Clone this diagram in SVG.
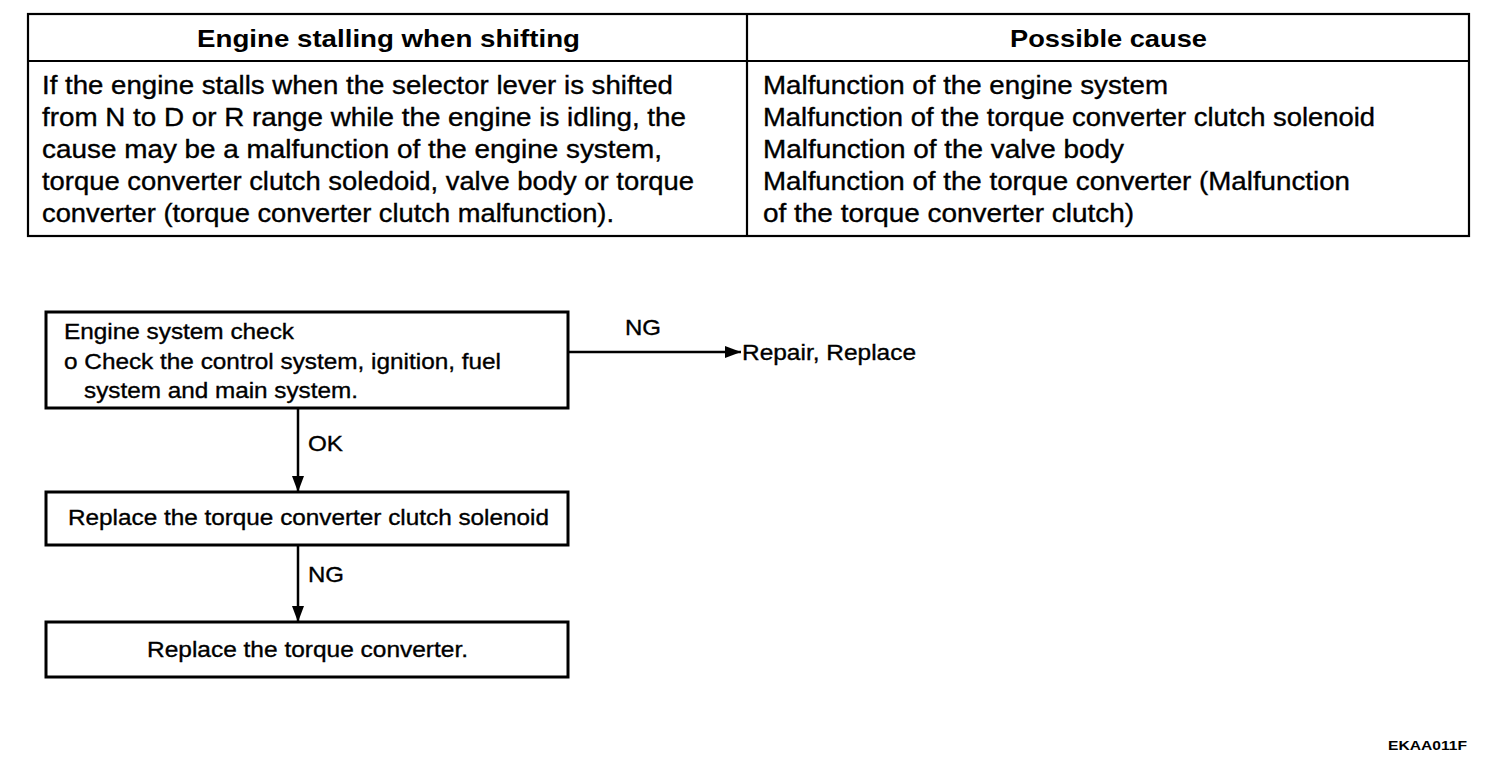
<svg xmlns="http://www.w3.org/2000/svg" width="1504" height="762" viewBox="0 0 1504 762">
<style>
text{font-family:"Liberation Sans",Arial,sans-serif;fill:#000;stroke:#000;stroke-width:0.35}
.h{font-size:24px;font-weight:bold;stroke-width:0}
.b{font-size:25px}
.f{font-size:22px}
.box{fill:#fff;stroke:#000;stroke-width:3}
.ln{stroke:#000;stroke-width:2.2;fill:none}
.c{stroke:#000;stroke-width:2.5;fill:none;marker-end:url(#ah)}
</style>
<defs>
<marker id="ah" markerWidth="16" markerHeight="12" refX="16" refY="6" orient="auto" markerUnits="userSpaceOnUse">
<path d="M0,0 L16,6 L0,12 Z" fill="#000"/>
</marker>
</defs>
<rect width="1504" height="762" fill="#fff"/>
<g id="table">
<rect x="28" y="14" width="1441" height="222" class="ln"/>
<line x1="28" y1="61" x2="1469" y2="61" class="ln"/>
<line x1="747" y1="14" x2="747" y2="236" class="ln"/>
<text class="h" x="197" y="47" textLength="383" lengthAdjust="spacingAndGlyphs">Engine stalling when shifting</text>
<text class="h" x="1010" y="47" textLength="197" lengthAdjust="spacingAndGlyphs">Possible cause</text>
<text class="b" x="42" y="94" textLength="631" lengthAdjust="spacingAndGlyphs">If the engine stalls when the selector lever is shifted</text>
<text class="b" x="42" y="126" textLength="644" lengthAdjust="spacingAndGlyphs">from N to D or R range while the engine is idling, the</text>
<text class="b" x="42" y="158" textLength="620" lengthAdjust="spacingAndGlyphs">cause may be a malfunction of the engine system,</text>
<text class="b" x="42" y="190" textLength="652" lengthAdjust="spacingAndGlyphs">torque converter clutch soledoid, valve body or torque</text>
<text class="b" x="42" y="222" textLength="572" lengthAdjust="spacingAndGlyphs">converter (torque converter clutch malfunction).</text>
<text class="b" x="763" y="94" textLength="405" lengthAdjust="spacingAndGlyphs">Malfunction of the engine system</text>
<text class="b" x="763" y="126" textLength="612" lengthAdjust="spacingAndGlyphs">Malfunction of the torque converter clutch solenoid</text>
<text class="b" x="763" y="158" textLength="361" lengthAdjust="spacingAndGlyphs">Malfunction of the valve body</text>
<text class="b" x="763" y="190" textLength="587" lengthAdjust="spacingAndGlyphs">Malfunction of the torque converter (Malfunction</text>
<text class="b" x="763" y="222" textLength="371" lengthAdjust="spacingAndGlyphs">of the torque converter clutch)</text>
</g>
<g id="connectors">
<line x1="568" y1="352" x2="741" y2="352" class="c"/>
<text class="f" x="625" y="335" textLength="36" lengthAdjust="spacingAndGlyphs">NG</text>
<line x1="298" y1="408" x2="298" y2="492" class="c"/>
<text class="f" x="308" y="451" textLength="35" lengthAdjust="spacingAndGlyphs">OK</text>
<line x1="298" y1="545" x2="298" y2="622" class="c"/>
<text class="f" x="308" y="582" textLength="36" lengthAdjust="spacingAndGlyphs">NG</text>
</g>
<g id="n1">
<rect x="46" y="312" width="522" height="96" class="box"/>
<text class="f" x="64" y="339" textLength="230" lengthAdjust="spacingAndGlyphs">Engine system check</text>
<text class="f" x="64" y="369" textLength="437" lengthAdjust="spacingAndGlyphs">o Check the control system, ignition, fuel</text>
<text class="f" x="84" y="398" textLength="274" lengthAdjust="spacingAndGlyphs">system and main system.</text>
</g>
<g id="n2">
<text class="f" x="742" y="360" textLength="174" lengthAdjust="spacingAndGlyphs">Repair, Replace</text>
</g>
<g id="n3">
<rect x="46" y="492" width="522" height="53" class="box"/>
<text class="f" x="68" y="525" textLength="481" lengthAdjust="spacingAndGlyphs">Replace the torque converter clutch solenoid</text>
</g>
<g id="n4">
<rect x="46" y="622" width="522" height="55" class="box"/>
<text class="f" x="147" y="657" textLength="321" lengthAdjust="spacingAndGlyphs">Replace the torque converter.</text>
</g>
<text x="1388" y="750" style="font-size:13px;font-weight:bold;stroke-width:0" textLength="79" lengthAdjust="spacingAndGlyphs">EKAA011F</text>
</svg>
